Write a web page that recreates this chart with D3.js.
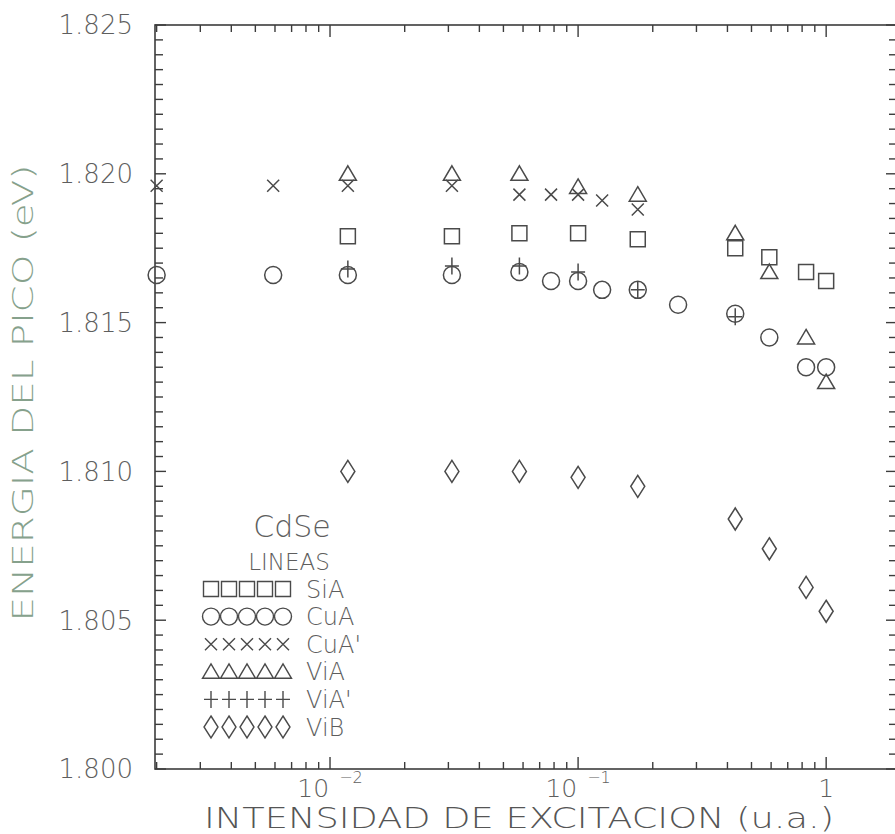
<!DOCTYPE html>
<html>
<head>
<meta charset="utf-8">
<script src="https://cdn.jsdelivr.net/npm/d3@7"></script>
<style>
  html, body { margin: 0; padding: 0; background: #fff; }
  svg { display: block; }
  text { font-family: "DejaVu Sans", sans-serif; font-weight: 200; }
</style>
</head>
<body>
<svg id="chart" width="895" height="834"></svg>
<script>
// Peak energy of CdSe emission lines vs. excitation intensity (log scale)

const seriesNames = ["SiA", "CuA", "CuA'", "ViA", "ViA'", "ViB"];
const seriesShapes = ["square", "circle", "x", "triangle", "plus", "diamond"];

const siaX = [0.0118, 0.031, 0.058, 0.1, 0.174, 0.43, 0.59, 0.83, 1.0];
const siaY = [1.8179, 1.8179, 1.8180, 1.8180, 1.8178, 1.8175, 1.8172, 1.8167, 1.8164];

const cuaX = [0.002, 0.0059, 0.0118, 0.031, 0.058, 0.0778, 0.1, 0.125, 0.174, 0.253, 0.43, 0.59, 0.83, 1.0];
const cuaY = [1.8166, 1.8166, 1.8166, 1.8166, 1.8167, 1.8164, 1.8164, 1.8161, 1.8161, 1.8156, 1.8153, 1.8145, 1.8135, 1.8135];

const cuapX = [0.002, 0.0059, 0.0118, 0.031, 0.058, 0.0778, 0.1, 0.125, 0.174];
const cuapY = [1.8196, 1.8196, 1.8196, 1.8196, 1.8193, 1.8193, 1.8193, 1.8191, 1.8188];

const viaX = [0.0118, 0.031, 0.058, 0.1, 0.174, 0.43, 0.59, 0.83, 1.0];
const viaY = [1.8200, 1.8200, 1.8200, 1.81956, 1.8193, 1.8180, 1.8167, 1.8145, 1.8130];

const viapX = [0.0118, 0.031, 0.058, 0.1, 0.174, 0.43];
const viapY = [1.8168, 1.8169, 1.8169, 1.8167, 1.8161, 1.8152];

const vibX = [0.0118, 0.031, 0.058, 0.1, 0.174, 0.43, 0.59, 0.83, 1.0];
const vibY = [1.8100, 1.8100, 1.8100, 1.8098, 1.8095, 1.8084, 1.8074, 1.8061, 1.8053];

const yMajorTicks = [1.800, 1.805, 1.810, 1.815, 1.820, 1.825];
const xMajorTicks = [0.01, 0.1, 1];
const xTickBase = ["10", "10", "1"];
const xTickExp = ["\u22122", "\u22121", ""];

const xTitle = "INTENSIDAD  DE  EXCITACION  (u.a.)";
const yTitle = "ENERGIA  DEL  PICO  (eV)";
const legendTitle = "CdSe";
const legendSub = "LINEAS";

const seriesData = [
  d3.zip(siaX, siaY), d3.zip(cuaX, cuaY), d3.zip(cuapX, cuapY),
  d3.zip(viaX, viaY), d3.zip(viapX, viapY), d3.zip(vibX, vibY)
];

const svg = d3.select("#chart");
const pL = 155, pR = 897, pT = 25, pB = 769;

const x = d3.scaleLog().domain([0.00197, 1.93]).range([pL, pR]);
const y = d3.scaleLinear().domain([1.800, 1.825]).range([pB, pT]);

const ink = "#3c3c3c";
const markInk = "#4a4a4a";
const textInk = "#5e5e5e";

// marker outlines, centred on (0,0)
function shapePath(type) {
  switch (type) {
    case "square": return "M-7.5,-7.5H7.5V7.5H-7.5Z";
    case "circle": return "M-8.5,0A8.5,8.5 0 1,0 8.5,0A8.5,8.5 0 1,0 -8.5,0Z";
    case "x": return "M-6,-6L6,6M-6,6L6,-6";
    case "triangle": return "M0,-8L8.5,6.5H-8.5Z";
    case "plus": return "M-7,0H7M0,-8.5V8.5";
    case "diamond": return "M0,-11L7,0L0,11L-7,0Z";
  }
}

// frame
svg.append("rect")
  .attr("x", pL).attr("y", pT)
  .attr("width", pR - pL).attr("height", pB - pT)
  .attr("fill", "none").attr("stroke", ink).attr("stroke-width", 1.6);

// x ticks (major + minor) on bottom and top
const xMinor = [];
for (let e = -3; e <= 0; e++) {
  for (let m = 2; m <= 9; m++) {
    const v = m * Math.pow(10, e);
    if (v > x.domain()[0] && v < x.domain()[1]) xMinor.push(v);
  }
}
const tickG = svg.append("g").attr("stroke", ink).attr("stroke-width", 1.4);
xMinor.forEach(v => {
  tickG.append("line").attr("x1", x(v)).attr("x2", x(v)).attr("y1", pB).attr("y2", pB - 7);
  tickG.append("line").attr("x1", x(v)).attr("x2", x(v)).attr("y1", pT).attr("y2", pT + 7);
});
xMajorTicks.forEach(v => {
  tickG.append("line").attr("x1", x(v)).attr("x2", x(v)).attr("y1", pB).attr("y2", pB - 12);
  tickG.append("line").attr("x1", x(v)).attr("x2", x(v)).attr("y1", pT).attr("y2", pT + 12);
});

// y ticks: minor every 0.0005, major every 0.005
const yMinor = d3.range(0, 51).map(i => 1.800 + i * 0.0005);
yMinor.forEach((v, i) => {
  const len = (i % 10 === 0) ? 11 : 8;
  tickG.append("line").attr("x1", pL).attr("x2", pL + len).attr("y1", y(v)).attr("y2", y(v));
  tickG.append("line").attr("x1", pR).attr("x2", pR - len).attr("y1", y(v)).attr("y2", y(v));
});

// y tick labels
svg.append("g").selectAll("text").data(yMajorTicks).join("text")
  .attr("x", 133).attr("y", d => y(d))
  .attr("dy", "0.36em")
  .attr("text-anchor", "end")
  .attr("font-size", 26)
  .attr("fill", textInk)
  .text(d => d3.format(".3f")(d));

// x tick labels with superscripted exponent
const xl = svg.append("g");
xMajorTicks.forEach((v, i) => {
  const t = xl.append("text")
    .attr("x", x(v)).attr("y", 797)
    .attr("text-anchor", "middle")
    .attr("font-size", 25)
    .attr("fill", textInk);
  t.append("tspan").text(xTickBase[i]);
  if (xTickExp[i]) {
    t.append("tspan").attr("dx", 10).attr("dy", -14).attr("font-size", 16).text(xTickExp[i]);
  }
});

// axis titles
svg.append("text")
  .attr("x", 519).attr("y", 828)
  .attr("text-anchor", "middle")
  .attr("font-size", 28)
  .attr("fill", "#555")
  .attr("textLength", 630).attr("lengthAdjust", "spacingAndGlyphs")
  .text(xTitle);

svg.append("text")
  .attr("transform", "translate(33,393) rotate(-90)")
  .attr("text-anchor", "middle")
  .attr("font-size", 29)
  .attr("fill", "#86a18c")
  .attr("textLength", 457).attr("lengthAdjust", "spacingAndGlyphs")
  .text(yTitle);

// data markers
const marks = svg.append("g")
  .attr("fill", "none").attr("stroke", markInk).attr("stroke-width", 1.5);
seriesData.forEach((pts, s) => {
  marks.append("g").selectAll("path").data(pts).join("path")
    .attr("transform", d => `translate(${x(d[0])},${y(d[1])})`)
    .attr("d", shapePath(seriesShapes[s]));
});

// legend
const lg = svg.append("g");
lg.append("text").attr("x", 292).attr("y", 537).attr("text-anchor", "middle")
  .attr("font-size", 30).attr("fill", textInk).text(legendTitle);
lg.append("text").attr("x", 289).attr("y", 570).attr("text-anchor", "middle")
  .attr("font-size", 23).attr("fill", textInk).text(legendSub);
const rowY0 = 589, rowStep = 27.6;
seriesNames.forEach((name, s) => {
  const ry = rowY0 + s * rowStep;
  for (let k = 0; k < 5; k++) {
    lg.append("path")
      .attr("transform", `translate(${211 + k * 18},${ry})`)
      .attr("d", shapePath(seriesShapes[s]))
      .attr("fill", "none").attr("stroke", markInk).attr("stroke-width", 1.4);
  }
  lg.append("text").attr("x", 306).attr("y", ry).attr("dy", "0.36em")
    .attr("font-size", 24).attr("fill", textInk).text(name);
});
</script>
</body>
</html>
